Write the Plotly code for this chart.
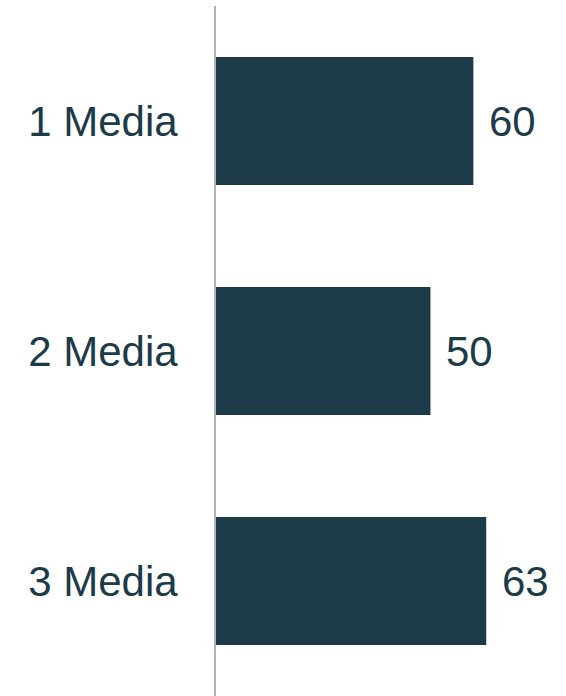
import plotly.graph_objects as go

categories = ['1 Media', '2 Media', '3 Media']
values = [60, 50, 63]

bar_color = '#1d3a48'
text_color = '#1d3a48'

fig = go.Figure()
fig.add_trace(go.Bar(
    x=values, y=categories,
    orientation='h',
    width=0.556,
    marker=dict(color=bar_color, line=dict(width=0)),
))

# value labels to the right of each bar
annotations = []
for c, v in zip(categories, values):
    annotations.append(dict(xref='x', yref='y', x=v, y=c,
                            text=str(v), xanchor='left', xshift=14,
                            showarrow=False,
                            font=dict(family='Liberation Sans, Arial', size=42, color=text_color)))

fig.update_layout(
    width=566, height=696,
    margin=dict(l=216, r=0, t=6, b=0),
    paper_bgcolor='white',
    plot_bgcolor='white',
    showlegend=False,
    annotations=annotations,
    font=dict(family='Liberation Sans, Arial', size=42, color=text_color),
    xaxis=dict(range=[0, 81.6], showgrid=False, zeroline=False,
               showticklabels=False, showline=False),
    yaxis=dict(autorange='reversed', showgrid=False, zeroline=False,
               showline=True, linecolor='#b3b3b3', linewidth=2,
               ticks='', ticklabelstandoff=28,
               tickfont=dict(family='Liberation Sans, Arial', size=42, color=text_color)),
)

# drop the page's default body margin so the chart sits at 0,0
fig.write_html("out.html", config={'displayModeBar': False},
               post_script="document.body.style.margin='0';")
